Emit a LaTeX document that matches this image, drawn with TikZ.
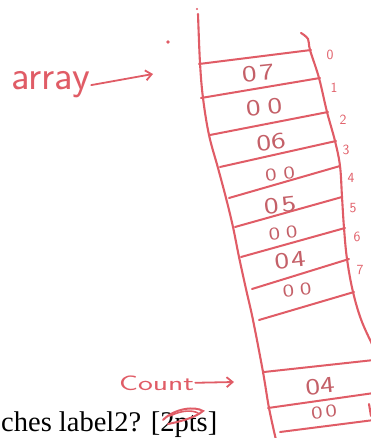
\documentclass[tikz,border=0pt]{standalone}
\usepackage{fontspec}
\newfontfamily\printfont{Liberation Serif}
\usetikzlibrary{arrows.meta}
\definecolor{ink}{RGB}{224,92,102}
\definecolor{inkd}{RGB}{196,96,104}
\newcommand{\wdig}[1]{\scalebox{1.35}[1]{#1}}
\begin{document}
\begin{tikzpicture}[x=1pt,y=-1pt,
  wall/.style={draw=ink, line width=2.1pt, line cap=round, line join=round},
  rung/.style={draw=ink, line width=2pt, line cap=round},
  cell/.style={text=inkd, inner sep=0pt, rotate=6, font=\sffamily\fontsize{23}{23}\selectfont},
  smallcell/.style={cell, font=\sffamily\fontsize{18}{18}\selectfont},
  idx/.style={text=ink, inner sep=0pt, font=\sffamily\fontsize{14}{14}\selectfont},
  hand/.style={text=ink, inner sep=1pt},
  pointer/.style={draw=ink, line width=1.8pt, line cap=round, -{Straight Barb[length=6pt,width=10pt]}},
  printed/.style={text=black, inner sep=0pt, anchor=base west, font=\printfont\fontsize{28.5}{30}\selectfont}]
\useasboundingbox (0,0) rectangle (371,438);
\begin{scope}
\clip (0,0) rectangle (371,438);
% left wall
\draw[wall] plot[smooth, tension=0.6] coordinates {(198,14) (200,63) (203,98) (209,135) (218,168) (226,198) (233,227) (239,257) (246,289) (253,320) (263,372) (269,408) (276,440)};
\fill[ink] (197,9) circle (1.1);
% right wall
\draw[wall] plot[smooth, tension=0.6] coordinates {(301,33) (308,39) (310,50) (319,78) (327,112) (335,141) (340,166) (342,197) (344,228) (347,259) (353,292) (362,322) (376,352)};
% rungs
\draw[rung] (199,64) -- (311,50);
\draw[rung] (201,98) -- (320,78);
\draw[rung] (210,135) -- (328,112);
\draw[rung] (220,167) -- (336,141);
\draw[rung] (229,198) -- (340,166);
\draw[rung] (235,227) -- (342,197);
\draw[rung] (241,257) -- (345,228);
\draw[rung] (252,289) -- (349,259);
\draw[rung] (259,320) -- (354,292);
\draw[rung] (264,372) -- (374,360);
\draw[rung] (268,408) -- (374,393);
\draw[rung] (280,432) -- (374,420);
\draw[wall] (369,404) -- (371,416);
\end{scope}
% cell values
\node[cell] (c0) at (258,73) {\wdig{0}\kern3pt\wdig{7}};
\node[cell] (c1) at (264,107) {\wdig{0}\kern7pt\wdig{0}};
\node[cell] (c2) at (271,142) {\wdig{0}\wdig{6}};
\node[smallcell] (c3) at (280,174) {\wdig{0}\kern7pt\wdig{0}};
\node[cell] (c4) at (280,205) {\wdig{0}\kern3pt\wdig{5}};
\node[smallcell] (c5) at (283,233) {\wdig{0}\kern6pt\wdig{0}};
\node[cell] (c6) at (290,260) {\wdig{0}\kern2pt\wdig{4}};
\node[smallcell] (c7) at (297,290) {\wdig{0}\kern6pt\wdig{0}};
\node[cell] (c8) at (320,386) {\wdig{0}\wdig{4}};
\node[smallcell] (c9) at (324,412) {\wdig{0}\kern3pt\wdig{0}};
% indices
\node[idx] (i0) at (330,55) {0};
\node[idx] (i1) at (334,88) {1};
\node[idx] (i2) at (343,120) {2};
\node[idx] (i3) at (346,150) {3};
\node[idx] (i4) at (351,178) {4};
\node[idx] (i5) at (353,208) {5};
\node[idx] (i6) at (357,237) {6};
\node[idx] (i7) at (360,270) {7};
% labels and pointers
\node[hand, anchor=base west, font=\sffamily\fontsize{41}{41}\selectfont] (arraylbl) at (10,90) {array};
\coordinate (arrtip) at (153,74);
\draw[pointer] (arraylbl.east) -- (arrtip);
\fill[ink] (168,42) circle (1.8);
\node[hand, anchor=base west, font=\sffamily\fontsize{21}{21}\selectfont] (countlbl) at (118,390) {\scalebox{1.5}[1]{Count}};
\coordinate (counttip) at (234,382);
\draw[pointer] (countlbl.east) -- (counttip);
% printed text
\node[printed] (question) at (1,431) {ches label2? [2pts]};
\draw[ink, line width=2pt, line cap=round] (163,420) .. controls (175,408) and (195,406) .. (203,411) .. controls (195,418) and (178,422) .. (168,424);
\draw[ink, line width=1.6pt, line cap=round] (170,416) .. controls (182,410) and (192,410) .. (198,413);
\end{tikzpicture}
\end{document}
